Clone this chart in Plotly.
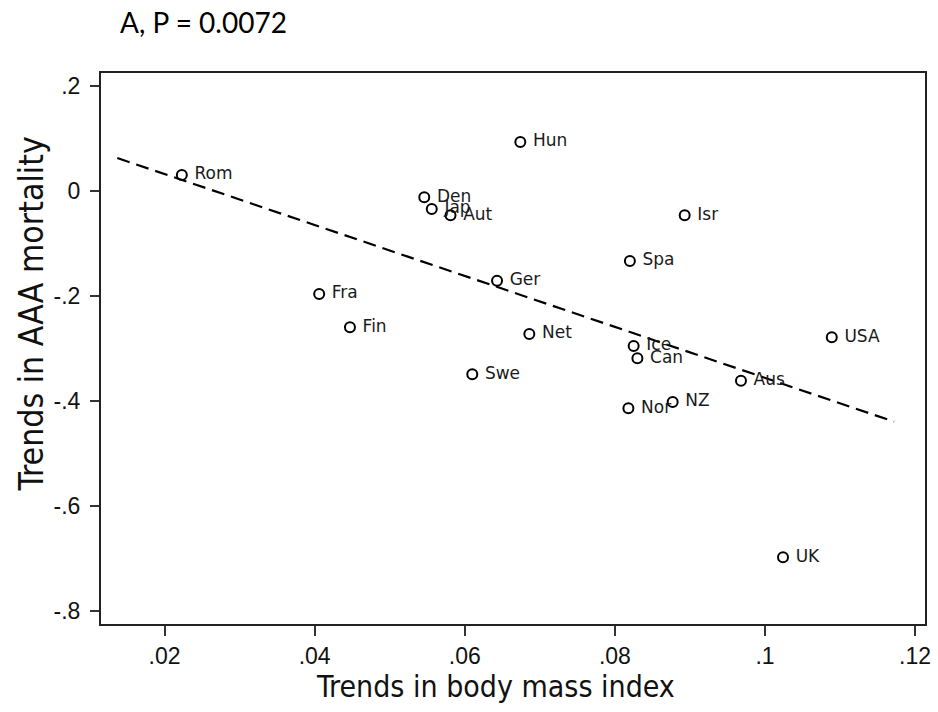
import plotly.graph_objects as go

countries = ["Rom", "Hun", "Den", "Jap", "Aut", "Isr", "Spa", "Ger", "Net", "Ice",
             "Can", "Swe", "Nor", "NZ", "USA", "Aus", "UK", "Fra", "Fin"]
bmi_trend = [0.0223, 0.0674, 0.0546, 0.0556, 0.0581, 0.0893, 0.0820, 0.0643, 0.0686, 0.0825,
             0.0830, 0.0610, 0.0818, 0.0877, 0.1089, 0.0968, 0.1024, 0.0406, 0.0447]
aaa_trend = [0.0305, 0.0933, -0.0120, -0.0343, -0.0463, -0.0463, -0.1333, -0.1708, -0.2724, -0.2952,
             -0.3187, -0.3492, -0.4140, -0.4019, -0.2787, -0.3613, -0.6977, -0.1962, -0.2596]
# fitted line end points
fit_x = [0.0137, 0.1172]
fit_y = [0.0629, -0.4394]

x_tickvals = [0.02, 0.04, 0.06, 0.08, 0.10, 0.12]
x_ticktext = [".02", ".04", ".06", ".08", ".1", ".12"]
y_tickvals = [0.2, 0.0, -0.2, -0.4, -0.6, -0.8]
y_ticktext = [".2", "0", "-.2", "-.4", "-.6", "-.8"]

fig = go.Figure()
fig.add_trace(go.Scatter(
    x=fit_x, y=fit_y, mode="lines",
    line=dict(color="black", width=2.2, dash="13px,7px"),
    hoverinfo="skip", showlegend=False))
fig.add_trace(go.Scatter(
    x=bmi_trend, y=aaa_trend, mode="markers+text",
    text=["\u00a0" + c for c in countries],
    textposition="middle right",
    textfont=dict(family="DejaVu Sans, Liberation Sans, Arial", size=17, color="#1a1a1a"),
    marker=dict(symbol="circle-open", size=10, color="black", line=dict(width=2, color="black")),
    showlegend=False))

axis_font = dict(family="Liberation Sans, Arial, sans-serif", size=23, color="#111111")
fig.update_xaxes(range=[0.01153, 0.12132], tickvals=x_tickvals, ticktext=x_ticktext,
                 ticks="outside", ticklen=10, tickwidth=1.5, tickcolor="#333333",
                 showline=True, linecolor="#222222", linewidth=2, mirror=True,
                 showgrid=False, zeroline=False, tickfont=axis_font, ticklabelstandoff=0)
fig.update_yaxes(range=[-0.8248, 0.2248], tickvals=y_tickvals, ticktext=y_ticktext,
                 ticks="outside", ticklen=9, tickwidth=1.5, tickcolor="#333333",
                 showline=True, linecolor="#222222", linewidth=2, mirror=True,
                 showgrid=False, zeroline=False, tickfont=axis_font, ticklabelstandoff=5)

narrow = "Liberation Sans Narrow, Arial Narrow, DejaVu Sans Condensed, Liberation Sans, sans-serif"

W, H = 938, 712
L, R, T, B = 101, 931, 73, 624
PW, PH = R - L, B - T

fig.update_layout(
    width=W, height=H,
    margin=dict(l=L, r=W - R, t=T, b=H - B),
    paper_bgcolor="white", plot_bgcolor="white",
    annotations=[
        dict(text="A, P = 0.0072", xref="paper", yref="paper",
             x=(118 - L) / PW, y=(B - 22) / PH,
             xanchor="left", yanchor="middle", showarrow=False,
             font=dict(family="Lato, Open Sans, sans-serif", size=28, color="black")),
        dict(text="Trends in body mass index", xref="paper", yref="paper",
             x=(498 - L) / PW, y=-(686 - B) / PH,
             xanchor="center", yanchor="middle",
             showarrow=False, font=dict(family=narrow, size=30, color="#111111")),
        dict(text="Trends in AAA mortality", xref="paper", yref="paper",
             x=-(L - 30) / PW, y=(B - 314) / PH,
             xanchor="center", yanchor="middle",
             textangle=-90, showarrow=False, font=dict(family=narrow, size=33.5, color="#111111")),
    ],
)

fig.write_html(
    "out.html",
    config={"displayModeBar": False},
    post_script="document.body.style.margin='0';document.body.style.overflow='hidden';"
                "document.documentElement.style.overflow='hidden';",
)
